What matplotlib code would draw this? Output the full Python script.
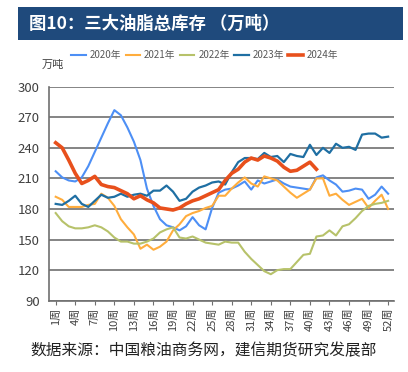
import numpy as np
import matplotlib
matplotlib.use("Agg")
import matplotlib.pyplot as plt
from matplotlib.patches import Rectangle

plt.rcParams['font.family'] = ['Liberation Sans Narrow', 'Noto Sans CJK SC', 'DejaVu Sans']

weeks = np.arange(1, 53)
years = ["2020年", "2021年", "2022年", "2023年", "2024年"]

stock_2020 = [217, 211, 208, 207, 211, 222, 236, 250, 264, 277, 272, 260, 246, 228, 200, 183,
              170, 164, 162, 159, 163, 172, 164, 160, 181, 196, 199, 200, 203, 207, 199, 208,
              205, 207, 209, 205, 202, 201, 200, 199, 211, 213, 208, 204, 197, 198, 200, 199,
              190, 194, 202, 195]
stock_2021 = [192, 189, 182, 182, 182, 184, 185, 195, 191, 183, 170, 162, 155, 141, 145, 140,
              143, 148, 159, 165, 173, 176, 178, 181, 183, 193, 193, 200, 206, 211, 205, 202,
              212, 210, 208, 202, 196, 191, 195, 199, 210, 210, 193, 195, 189, 184, 187, 190,
              181, 188, 194, 180]
stock_2022 = [176, 168, 163, 161, 161, 162, 164, 162, 158, 152, 148, 148, 146, 146, 148, 151,
              157, 160, 162, 152, 151, 153, 150, 147, 146, 145, 148, 147, 147, 138, 131, 125,
              119, 116, 120, 121, 121, 128, 135, 136, 153, 154, 159, 154, 163, 165, 171, 178,
              183, 185, 186, 188]
stock_2023 = [185, 184, 188, 193, 185, 182, 188, 194, 191, 192, 195, 192, 194, 195, 193, 198,
              198, 203, 197, 188, 190, 197, 201, 203, 206, 207, 204, 216, 226, 230, 230, 229,
              235, 231, 232, 226, 234, 232, 231, 243, 233, 240, 235, 244, 240, 241, 238, 253,
              254, 254, 250, 251]
stock_2024 = [245, 240, 228, 215, 205, 208, 212, 204, 202, 201, 198, 195, 190, 193, 189, 186,
              181, 180, 179, 181, 185, 188, 190, 193, 196, 199, 208, 215, 219, 226, 230, 228,
              232, 230, 227, 221, 217, 218, 222, 226, 219]

series = [stock_2020, stock_2021, stock_2022, stock_2023, stock_2024]
colors = ["#4d8ff5", "#ffad3d", "#b7c26a", "#1f6fa3", "#e8501c"]
widths = [1.5, 1.5, 1.5, 1.6, 2.6]

fig = plt.figure(figsize=(4.08, 3.72), dpi=100)

# title banner
fig.patches.append(Rectangle((18 / 408, 1 - 40 / 372), 385 / 408, 33 / 372,
                             transform=fig.transFigure, facecolor="#1f4a7c",
                             edgecolor="none"))
fig.text(29 / 408, 1 - 24 / 372, "图10：三大油脂总库存 （万吨）", color="white",
         fontsize=12.5, fontweight="bold", va="center", ha="left",
         family=['Noto Sans CJK SC', 'DejaVu Sans'])

ax = fig.add_axes([49.3 / 408, 1 - 300.7 / 372, (394 - 49.3) / 408, (300.7 - 86.7) / 372])

lines = []
for vals, c, lw, lab in zip(series, colors, widths, years):
    ln, = ax.plot(weeks[:len(vals)], vals, color=c, lw=lw, label=lab, zorder=3)
    lines.append(ln)

ax.set_xlim(0.02, 52.9)
ax.set_ylim(90, 300)
ax.set_yticks(np.arange(90, 301, 30))
ax.grid(axis="y", color="#6f6f6f", lw=1.2, zorder=1)
ax.set_axisbelow(True)

xt = np.arange(1, 53, 3)
ax.set_xticks(xt)
ax.set_xticklabels([f"{w}周" for w in xt], rotation=90, fontsize=8, color="#404040")
ax.tick_params(axis="x", length=3, color="#6f6f6f", pad=2)
ax.tick_params(axis="y", length=0, pad=7, labelsize=9.5, labelcolor="#404040")

for s in ["top", "right"]:
    ax.spines[s].set_visible(False)
for s in ["left", "bottom"]:
    ax.spines[s].set_color("#6f6f6f")
    ax.spines[s].set_linewidth(1.2)

fig.text(42 / 408, 1 - 65 / 372, "万吨", fontsize=8, color="#404040", va="center")

fig.legend(handles=lines, loc="center", bbox_to_anchor=(0.502, 1 - 55 / 372), ncol=5,
           frameon=False, fontsize=7, handlelength=1.5, handletextpad=0.4,
           columnspacing=0.45, labelcolor="#595959")

fig.text(30 / 408, 1 - 351 / 372, "数据来源：中国粮油商务网，建信期货研究发展部",
         fontsize=11.3, color="#222222", va="center", ha="left", style="italic",
         family=['Noto Sans CJK SC', 'DejaVu Sans'])

fig.savefig("out.png", dpi=100)
